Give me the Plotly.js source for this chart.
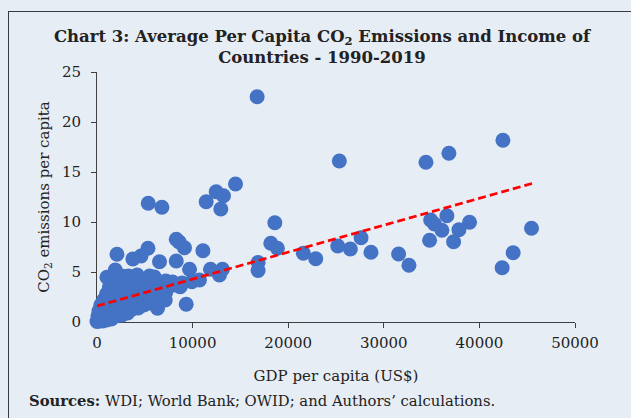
<!DOCTYPE html>
<html>
<head>
<meta charset="utf-8">
<script src="https://cdn.plot.ly/plotly-3.0.1.min.js"></script>
<style>
  html, body { margin: 0; padding: 0; background: rgb(231,237,245); overflow: hidden; }
  #wrap { position: relative; width: 631px; height: 418px; }
  #chart { position: absolute; left: 0; top: 0; width: 631px; height: 418px; }
  #frame { position: absolute; left: 8px; top: 11px; width: 700px; height: 500px;
           border-left: 1.5px solid #3a3a3a; border-top: 1.5px solid #3a3a3a; pointer-events: none; }
</style>
</head>
<body>
<div id="wrap"><div id="chart"></div><div id="frame"></div></div>
<script>
// Countries outside the dense cluster (GDP per capita US$, CO2 t per capita)
const gdpOutliers = [25350,34410,36810,42460,45450,43530,42380,38970,37860,37300,36600,36080,34900,35300,34790,32630,31550,28660,27620,26500,25180,22880,21590,16750,14490,12470,13230,11420,12950,5360,6790,18600,18180,18870,16850,16850,8290,8600,9150,11080,8290,6540,5330,4600,3750,2090,9680,11870,13120,12810,10720,9930,8700,9330,7140,6330,1910,1040];
const co2Outliers = [16.1,15.97,16.87,18.17,9.37,6.93,5.43,9.97,9.23,8.03,10.63,9.17,10.2,9.8,8.17,5.67,6.8,6.97,8.43,7.3,7.6,6.33,6.87,22.53,13.8,13.03,12.63,12.03,11.3,11.87,11.47,9.93,7.87,7.37,5.95,5.15,8.27,8.0,7.43,7.13,6.1,6.03,7.37,6.6,6.3,6.77,5.27,5.27,5.27,4.7,4.2,4.03,3.53,1.77,2.2,1.37,5.2,4.47];

// Dense cluster of low-income countries (estimated)
const gdpCluster = [
  0,250,600,1000,1500,300,
  100,500,900,1400,2000,2600,3200,
  200,700,1200,1800,2400,3000,3700,4300,
  400,900,1500,2100,2800,3500,4200,4900,5500,
  700,1300,2000,2700,3400,4100,4800,5500,6200,
  1000,1600,2300,3000,3700,4400,5100,5800,6500,7200,
  1300,2000,2700,3400,4100,4800,5500,6200,6900,7600,8200,
  1500,2300,3000,3700,4400,5100,5800,6500,7200,7900,8900,
  2600,3300,4200,5500,6000
];
const co2Cluster = [
  0.05,0.1,0.1,0.2,0.3,0.3,
  0.6,0.5,0.6,0.6,0.6,0.7,0.9,
  1.1,1.1,1.1,1.1,1.2,1.2,1.3,1.4,
  1.7,1.6,1.7,1.7,1.7,1.8,1.8,1.7,1.9,
  2.2,2.3,2.3,2.3,2.4,2.3,2.4,2.5,2.5,
  2.8,3.0,2.9,3.0,3.0,2.9,3.0,3.1,3.0,3.0,
  3.5,3.6,3.5,3.6,3.5,3.6,3.6,3.5,3.6,3.6,3.7,
  4.1,4.2,4.1,4.2,4.0,4.2,4.1,4.0,4.1,4.0,3.9,
  4.6,4.6,4.7,4.6,4.5
];

// Linear trend line end points
const trendGdp = [0, 45500];
const trendCo2 = [1.6, 13.85];

const xTicks = [0, 10000, 20000, 30000, 40000, 50000];
const yTicks = [0, 5, 10, 15, 20, 25];

const serif = 'DejaVu Serif, serif';
const ink = '#222222';
const axisCol = '#404040';

const scatter = {
  type: 'scatter', mode: 'markers',
  x: gdpCluster.concat(gdpOutliers),
  y: co2Cluster.concat(co2Outliers),
  marker: { color: '#4472C4', size: 15, line: { width: 0 } },
  cliponaxis: false, showlegend: false, hoverinfo: 'x+y'
};
const trend = {
  type: 'scatter', mode: 'lines',
  x: trendGdp, y: trendCo2,
  line: { color: '#FF0000', width: 2.75, dash: '8px,4px' },
  cliponaxis: false, showlegend: false, hoverinfo: 'skip'
};

const layout = {
  width: 631, height: 418,
  margin: { l: 97, r: 56, t: 72, b: 96 },
  paper_bgcolor: 'rgb(231,237,245)',
  plot_bgcolor: 'rgb(231,237,245)',
  font: { family: serif, size: 15, color: ink },
  title: {
    text: '<b>Chart 3: Average Per Capita CO<sub>2</sub> Emissions and Income of<br>Countries - 1990-2019</b>',
    font: { family: serif, size: 16.5, color: ink },
    x: 322 / 631, xanchor: 'center', xref: 'container',
    y: 1 - 42 / 418, yanchor: 'top', yref: 'container'
  },
  xaxis: {
    range: [0, 50000], tickvals: xTicks, ticktext: xTicks.map(String),
    showgrid: false, zeroline: false, showline: true, linecolor: axisCol, linewidth: 1,
    ticks: 'outside', ticklen: 5, tickcolor: axisCol, tickwidth: 1,
    tickfont: { family: serif, size: 15, color: ink },
    ticklabelstandoff: 2,
    layer: 'below traces',
    title: { text: 'GDP per capita (US$)', font: { family: serif, size: 15, color: ink }, standoff: 19 }
  },
  yaxis: {
    range: [0, 25], tickvals: yTicks, ticktext: yTicks.map(String),
    showgrid: false, zeroline: false, showline: true, linecolor: axisCol, linewidth: 1,
    ticks: 'outside', ticklen: 5, tickcolor: axisCol, tickwidth: 1,
    tickfont: { family: serif, size: 15, color: ink },
    ticklabelstandoff: 7,
    layer: 'below traces',
    title: { text: 'CO<sub>2</sub> emissions per capita', font: { family: serif, size: 15, color: ink }, standoff: 8 }
  },
  annotations: [{
    xref: 'paper', yref: 'paper',
    x: (27 - 97) / 478, y: (322 - 400) / 250,
    xanchor: 'left', yanchor: 'middle', showarrow: false,
    text: '<b>Sources:</b> WDI; World Bank; OWID; and Authors\u2019 calculations.',
    font: { family: serif, size: 14.8, color: ink }
  }]
};

Plotly.newPlot('chart', [scatter, trend], layout, { staticPlot: true, displayModeBar: false });
</script>
</body>
</html>
